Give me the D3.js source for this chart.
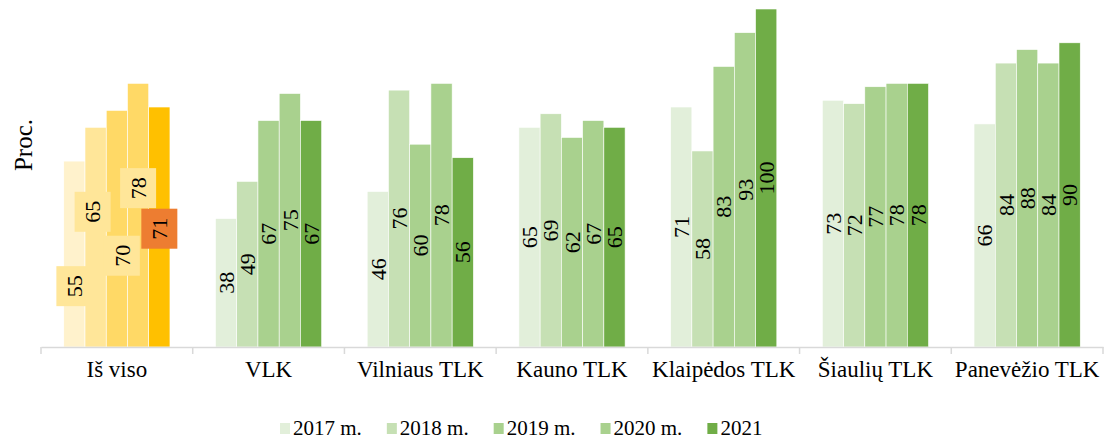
<!DOCTYPE html>
<html>
<head>
<meta charset="utf-8">
<script src="https://cdn.jsdelivr.net/npm/d3@7"></script>
<style>
  body { margin: 0; background: #fff; }
  svg text { font-family: "Liberation Serif", serif; fill: #000; }
</style>
</head>
<body>
<div id="chart"></div>
<script>
const w = 1108;
const h = 440;

// data
const categories = ["Iš viso", "VLK", "Vilniaus TLK", "Kauno TLK", "Klaipėdos TLK", "Šiaulių TLK", "Panevėžio TLK"];
const years = ["2017 m.", "2018 m.", "2019 m.", "2020 m.", "2021"];
const v2017 = [55, 38, 46, 65, 71, 73, 66];
const v2018 = [65, 49, 76, 69, 58, 72, 84];
const v2019 = [70, 67, 60, 62, 83, 77, 88];
const v2020 = [78, 75, 78, 67, 93, 78, 84];
const v2021 = [71, 67, 56, 65, 100, 78, 90];
const series = [v2017, v2018, v2019, v2020, v2021];

const greens = ["#e2efda", "#c6e0b4", "#a9d18e", "#a9d18e", "#70ad47"];
const yellows = ["#fff2cc", "#ffe699", "#ffd966", "#ffd966", "#ffc000"];
const serif = "'Liberation Serif', serif";

// hand-placed labels of the "Iš viso" group (value units / px shift)
const totalLabelAt = [18, 40, 27, 47, 35];
const totalLabelShift = [0, -3, 5, 0, 0];

let svg = d3.select("#chart").append("svg")
    .attr("width", w).attr("height", h);

let x = d3.scaleBand().domain(categories).range([41, 1103]);
let xs = d3.scaleBand().domain(years)
    .range([x.bandwidth() * 0.15, x.bandwidth() * 0.85]);
let y = d3.scaleLinear().domain([0, 100]).range([347, 9]);

let rows = [];
categories.forEach((c, i) => {
    years.forEach((yr, j) => {
        rows.push({cat: c, year: yr, j: j, ci: i, v: series[j][i]});
    });
});

// bars
svg.append("g").selectAll("rect")
    .data(rows)
    .join("rect")
    .attr("x", d => x(d.cat) + xs(d.year))
    .attr("width", xs.bandwidth())
    .attr("y", d => y(d.v))
    .attr("height", d => y(0) - y(d.v))
    .attr("fill", d => d.ci === 0 ? yellows[d.j] : greens[d.j])
    .attr("stroke", "#fff")
    .attr("stroke-width", 0.6);

// x axis
let xAxis = svg.append("g")
    .attr("transform", "translate(0," + y(0) + ")")
    .call(d3.axisBottom(x).tickSize(0).tickPadding(14))
    .attr("font-family", serif);
xAxis.select(".domain").attr("stroke", "#d9d9d9").attr("stroke-width", 1.5);
xAxis.selectAll(".tick text")
    .attr("fill", "#000")
    .style("font-size", "23px");
let bounds = categories.map(c => x(c)).concat([x.range()[1]]);
xAxis.selectAll("line.sep")
    .data(bounds)
    .join("line")
    .attr("class", "sep")
    .attr("x1", d => d).attr("x2", d => d)
    .attr("y1", 0).attr("y2", 7)
    .attr("stroke", "#d9d9d9").attr("stroke-width", 1.5);

// labels
let lab = svg.append("g").selectAll("g")
    .data(rows)
    .join("g")
    .attr("transform", d => {
        let cx = x(d.cat) + xs(d.year) + xs.bandwidth() / 2;
        let cy = y(d.v / 2);
        if (d.ci === 0) {
            cx += totalLabelShift[d.j];
            cy = y(totalLabelAt[d.j]);
        }
        return "translate(" + cx + "," + cy + ") rotate(-90)";
    });

lab.filter(d => d.ci === 0).append("rect")
    .attr("x", -20).attr("y", -18)
    .attr("width", 40).attr("height", 36)
    .attr("fill", d => d.j === 4 ? "#ed7d31" : "#ffe699");

lab.append("text")
    .attr("text-anchor", "middle")
    .attr("dy", "0.35em")
    .style("font-size", "22px")
    .text(d => d.v);

// y title
svg.append("text")
    .attr("transform", "translate(23,145) rotate(-90)")
    .attr("text-anchor", "middle")
    .attr("dy", "0.35em")
    .style("font-size", "25px")
    .text("Proc.");

// legend
let lg = svg.append("g").attr("transform", "translate(280,428)");
let lx = 0;
years.forEach((yr, j) => {
    let item = lg.append("g").attr("transform", "translate(" + lx + ",0)");
    item.append("rect")
        .attr("x", 0).attr("y", -5)
        .attr("width", 10).attr("height", 11)
        .attr("fill", greens[j]);
    let t = item.append("text")
        .attr("x", 13)
        .attr("dy", "0.35em")
        .style("font-size", "21px")
        .text(yr);
    lx += 13 + t.node().getComputedTextLength() + 25;
});
</script>
</body>
</html>
